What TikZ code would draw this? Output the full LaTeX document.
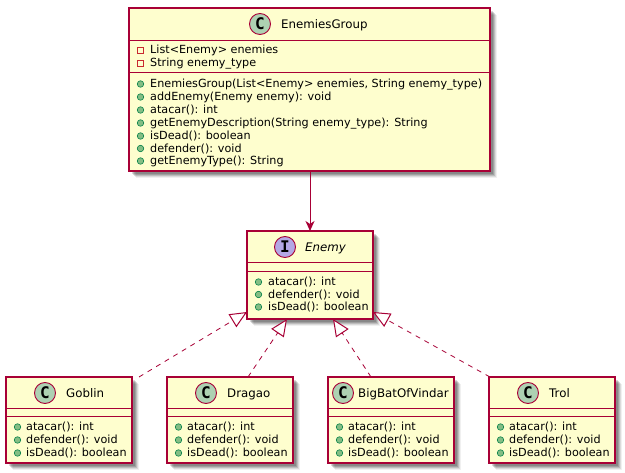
\documentclass[tikz,border=0pt]{standalone}
\usepackage{fontspec}
\setmainfont{DejaVu Sans}
\newfontfamily\spotfont{DejaVu Sans Mono}
\usetikzlibrary{arrows.meta}
\definecolor{umlred}{HTML}{A80036}
\definecolor{umlfill}{HTML}{FEFECE}
\definecolor{spotgreen}{HTML}{ADD1B2}
\definecolor{spotviolet}{HTML}{B4A7E5}
\definecolor{dotgreen}{HTML}{84BE84}
\definecolor{dotborder}{HTML}{038048}
\definecolor{privred}{HTML}{C82930}
\tikzset{
  classbox/.style={draw=umlred, fill=umlfill, line width=1.15pt, anchor=north west, inner sep=0pt, outer sep=0pt},
  spot/.style={circle, draw=umlred, line width=0.9pt, minimum size=21pt, inner sep=0pt, font=\spotfont\bfseries\fontsize{16}{16}\selectfont},
  title/.style={anchor=base west, inner sep=0pt, font=\fontsize{11.8}{13}\selectfont},
  member/.style={anchor=base west, inner sep=0pt, font=\fontsize{11.2}{12}\selectfont},
  pubdot/.style={circle, draw=dotborder, fill=dotgreen, line width=0.6pt, minimum size=6.5pt, inner sep=0pt},
  privdot/.style={rectangle, draw=privred, line width=0.9pt, minimum size=6pt, inner sep=0pt},
  realize/.style={draw=umlred, line width=0.8pt, dash pattern=on 5pt off 5pt, -{Triangle[open, length=17pt, width=15pt, fill=white, line width=1pt]}},
  uses/.style={draw=umlred, line width=1pt, -{Stealth[length=10pt, width=9pt, inset=3pt]}},
}
\begin{document}
\begin{tikzpicture}[x=1pt,y=-1pt]
\useasboundingbox (0,0) rectangle (625,473);
\fill[white] (0,0) rectangle (625,473);

% shadows
\foreach \sx/\sy/\sw/\sh in {129/8/361/163, 247/231/126/88, 6/377/126/86, 167/377/126/86, 328/377/126/86, 489/377/126/86} {
  \foreach \off/\op in {7/0.06, 6/0.09, 5/0.13, 4/0.15, 3/0.15} {
    \fill[black, opacity=\op] (\sx+\off,\sy+\off) rectangle (\sx+\sw+\off,\sy+\sh+\off);
  }
}

% EnemiesGroup
\node[classbox, minimum width=361pt, minimum height=163pt] (group) at (129,8) {};
\draw[umlred, line width=1pt] (129,40.5) -- (490,40.5) (129,73) -- (490,73);
\node[spot, fill=spotgreen] (groupspot) at (260,24) {C};
\node[title] (grouptitle) at (281,28.5) {EnemiesGroup};
\foreach \my/\mtext in {50/{List<Enemy> enemies}, 63/{String enemy\_type}} {
  \node[privdot] at (140.5,\my) {};
  \node[member] at (150,\my+4) {\mtext};
}
\foreach \my/\mtext in {84/{EnemiesGroup(List<Enemy> enemies, String enemy\_type)},
    97/{addEnemy(Enemy enemy): void}, 110/{atacar(): int},
    123/{getEnemyDescription(String enemy\_type): String}, 136/{isDead(): boolean},
    148.5/{defender(): void}, 161/{getEnemyType(): String}} {
  \node[pubdot] at (140.5,\my) {};
  \node[member] at (150,\my+4) {\mtext};
}

% Enemy
\node[classbox, minimum width=126pt, minimum height=88pt] (enemy) at (247,231) {};
\draw[umlred, line width=1pt] (247,263) -- (373,263) (247,272) -- (373,272);
\node[spot, fill=spotviolet] (enemyspot) at (285,247) {I};
\node[title, font=\fontsize{11.8}{13}\selectfont\itshape] (enemytitle) at (305,251.5) {Enemy};
\foreach \my/\mtext in {282/{atacar(): int}, 294.5/{defender(): void}, 307/{isDead(): boolean}} {
  \node[pubdot] at (258.5,\my) {};
  \node[member] at (268,\my+4) {\mtext};
}

% subclasses
\foreach \cname/\cx/\cspot/\ctext/\ctitle in {goblin/6/45/66/Goblin, dragao/167/206/227/Dragao, bigbat/328/343/358/BigBatOfVindar, trol/489/528/549/Trol} {
  \node[classbox, minimum width=126pt, minimum height=86pt] (\cname) at (\cx,377) {};
  \draw[umlred, line width=1pt] (\cx,409) -- (\cx+126,409) (\cx,417) -- (\cx+126,417);
  \node[spot, fill=spotgreen] (\cname spot) at (\cspot,393) {C};
  \node[title] (\cname title) at (\ctext,397.5) {\ctitle};
  \foreach \my/\mtext in {427/{atacar(): int}, 440/{defender(): void}, 453/{isDead(): boolean}} {
    \node[pubdot] at (\cx+11.5,\my) {};
    \node[member] at (\cx+20,\my+4) {\mtext};
  }
}

% connectors
\coordinate (goblinfree) at (139,377);
\coordinate (dragaofree) at (248,377);
\coordinate (bigbatfree) at (371,377);
\coordinate (trolfree) at (490,377);
\coordinate (tipgoblin) at (247,312);
\coordinate (tipdragao) at (287,319);
\coordinate (tipbigbat) at (333,319);
\coordinate (tiptrol) at (373,312);
\draw[uses] (group.south -| 310,0) -- (enemy.north -| 310,0);
\draw[realize] (goblinfree) -- (tipgoblin);
\draw[realize] (dragaofree) -- (tipdragao);
\draw[realize] (bigbatfree) -- (tipbigbat);
\draw[realize] (trolfree) -- (tiptrol);
\end{tikzpicture}
\end{document}
